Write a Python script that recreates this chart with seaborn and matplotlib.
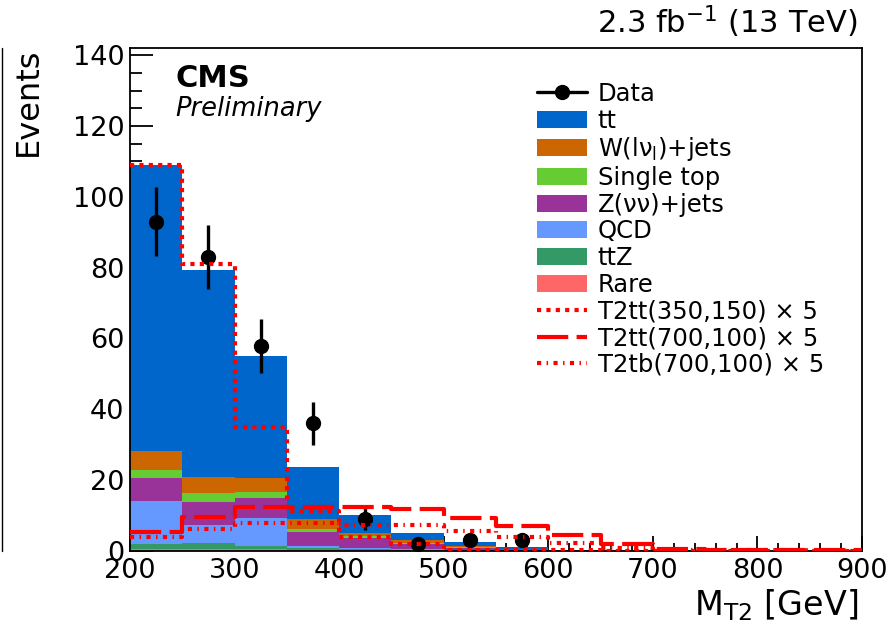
import numpy as np
import pandas as pd
import matplotlib
matplotlib.use("Agg")
import matplotlib.pyplot as plt
import seaborn as sns
from matplotlib.patches import Patch
from matplotlib.lines import Line2D

# ---------------- data ----------------
bin_edges = [200, 250, 300, 350, 400, 450, 500, 550, 600, 650, 700, 750, 800, 850, 900]

bkg_labels = ["tt", r"W(lν$_{\mathrm{l}}$)+jets", "Single top", "Z(νν)+jets", "QCD", "ttZ", "Rare"]
bkg_colors = ["#0066CC", "#CC6600", "#66CC33", "#993399", "#6699FF", "#339966", "#FF6666"]

tt         = [80.7, 58.3, 34.3, 14.8, 5.2, 2.1, 1.2, 0.5, 0.15, 0.10, 0.05, 0.03, 0.02, 0.02]
wjets      = [5.4, 4.7, 4.1, 2.7, 0.8, 0.9, 0.4, 0.15, 0.05, 0.03, 0.02, 0.01, 0.01, 0.01]
single_top = [2.4, 2.4, 1.6, 0.8, 0.6, 0.3, 0.1, 0.05, 0.02, 0.01, 0.01, 0.0, 0.0, 0.0]
zinv       = [6.3, 6.6, 5.8, 4.0, 2.7, 1.4, 0.7, 0.4, 0.15, 0.10, 0.06, 0.05, 0.03, 0.03]
qcd        = [12.2, 5.0, 7.8, 0.5, 0.3, 0.2, 0.05, 0.03, 0.01, 0.0, 0.0, 0.0, 0.0, 0.0]
ttz        = [1.5, 1.8, 0.9, 0.6, 0.4, 0.2, 0.1, 0.05, 0.03, 0.02, 0.01, 0.01, 0.01, 0.0]
rare       = [0.5, 0.5, 0.5, 0.3, 0.2, 0.1, 0.05, 0.02, 0.01, 0.01, 0.0, 0.0, 0.0, 0.0]

data_counts = [93, 83, 58, 36, 9, 2, 3, 3]

sig_labels = ["T2tt(350,150) × 5", "T2tt(700,100) × 5", "T2tb(700,100) × 5"]
t2tt_350_150 = [109, 81, 35, 11.3, 4.0, 1.9, 0.4, 0.3, 0.2, 0.1, 0.1, 0.05, 0.05, 0.05]
t2tt_700_100 = [5.5, 9.6, 12.5, 12.5, 12.4, 11.8, 9.2, 7.1, 4.5, 2.0, 0.6, 0.3, 0.3, 0.3]
t2tb_700_100 = [4.0, 6.2, 8.0, 8.0, 7.3, 7.3, 5.6, 4.0, 2.3, 0.9, 0.4, 0.2, 0.15, 0.1]

# ---------------- figure ----------------
sns.set_theme(style="ticks")
plt.rcParams["font.family"] = ["DejaVu Sans"]
plt.rcParams["mathtext.fontset"] = "dejavusans"
plt.rcParams["text.color"] = "black"
plt.rcParams["axes.labelcolor"] = "black"
plt.rcParams["xtick.color"] = "black"
plt.rcParams["ytick.color"] = "black"

W, H = 892, 644
fig = plt.figure(figsize=(W / 100, H / 100), dpi=100)
ax = fig.add_axes([130 / W, 1 - 551 / H, (862 - 130) / W, (551 - 48) / H])

edges_arr = np.array(bin_edges, dtype=float)
centers = 0.5 * (edges_arr[:-1] + edges_arr[1:])

# stacked backgrounds
bkg_values = [tt, wjets, single_top, zinv, qcd, ttz, rare]
rows = []
for lab, vals in zip(bkg_labels, bkg_values):
    for c, v in zip(centers, vals):
        rows.append({"mt2": float(c), "w": float(v), "process": lab})
df_bkg = pd.DataFrame(rows)

sns.histplot(data=df_bkg, x="mt2", weights="w", hue="process",
             hue_order=bkg_labels, palette=dict(zip(bkg_labels, bkg_colors)),
             bins=list(bin_edges), multiple="stack", element="step", fill=True,
             alpha=1, linewidth=0, legend=False, ax=ax, zorder=1)

# data points
n_data = len(data_counts)
dvals = np.array(data_counts, dtype=float)
ax.errorbar(centers[:n_data], dvals, yerr=np.sqrt(dvals), fmt="o",
            color="black", markersize=10, elinewidth=2.4, capsize=0, zorder=5)

# signals
sig_styles = [(0, (1.0, 1.25)), (0, (7.5, 2.0)), (0, (1.0, 1.3, 0.35, 1.3))]
for lab, vals, ls in zip(sig_labels, [t2tt_350_150, t2tt_700_100, t2tb_700_100], sig_styles):
    df_s = pd.DataFrame({"mt2": [float(c) for c in centers], "w": [float(v) for v in vals]})
    sns.histplot(data=df_s, x="mt2", weights="w", bins=list(bin_edges), element="step",
                 fill=False, color="#FF0000", linewidth=3.0, linestyle=ls,
                 ax=ax, zorder=6)

for line in ax.lines:
    line.set_solid_capstyle("butt")
    line.set_dash_capstyle("butt")

# axes style
ax.set_xlim(200, 900)
ax.set_ylim(0, 142)
ax.set_xlabel("")
ax.set_ylabel("")
ax.set_xticks([200, 300, 400, 500, 600, 700, 800, 900])
ax.set_xticks(np.arange(200, 901, 20), minor=True)
ax.set_yticks(np.arange(0, 141, 20))
ax.set_yticks(np.arange(0, 141, 5), minor=True)
for s in ax.spines.values():
    s.set_visible(True)
    s.set_linewidth(1.3)
    s.set_color("black")
ax.tick_params(axis="both", which="both", direction="in", top=False, right=False,
               labelsize=19.5, colors="black", width=1.3)
ax.tick_params(axis="y", which="major", length=16.5, pad=4)
ax.tick_params(axis="y", which="minor", length=8.5)
ax.tick_params(axis="x", which="major", length=11, pad=5)
ax.tick_params(axis="x", which="minor", length=5.5)
ax.set_facecolor("white")
ax.grid(False)

# legend
handles = [Line2D([0], [0], color="black", marker="o", markersize=10, lw=2.4)]
labels = ["Data"]
for lab, col in zip(bkg_labels, bkg_colors):
    handles.append(Patch(facecolor=col, edgecolor="none"))
    labels.append(lab)
for lab, ls in zip(sig_labels, sig_styles):
    h = Line2D([0], [0], color="#FF0000", lw=3.0, linestyle=ls)
    h.set_dash_capstyle("butt")
    handles.append(h)
    labels.append(lab)
fig.legend(handles, labels, loc="upper left", bbox_to_anchor=(537 / W, 1 - 82 / H),
           frameon=False, fontsize=17.5, handlelength=2.05, handleheight=0.7,
           handletextpad=0.45, labelspacing=0.11, borderpad=0, borderaxespad=0)

# texts
ax.text(0.0615, 0.968, "CMS", transform=ax.transAxes, fontsize=22,
        fontweight="bold", va="top", ha="left")
ax.text(0.0615, 0.905, "Preliminary", transform=ax.transAxes, fontsize=18.5,
        style="italic", va="top", ha="left")
fig.text(858 / W, 1 - 22 / H, "2.3 fb$^{\\mathrm{-1}}$ (13 TeV)", ha="right", va="center",
         fontsize=22)
fig.text(858 / W, 1 - 615 / H, r"M$_{\mathrm{T2}}$ [GeV]", ha="right", va="baseline",
         fontsize=24)
fig.text(28 / W, 1 - 48 / H, "Events", rotation=90, ha="center", va="top", fontsize=23)

# thin frame line on the far left edge of the canvas
fig.add_artist(Line2D([2 / W, 2 / W], [1 - 48 / H, 1 - 551 / H], color="black", lw=1.0))

fig.savefig("out.png", dpi=100, facecolor="white")
